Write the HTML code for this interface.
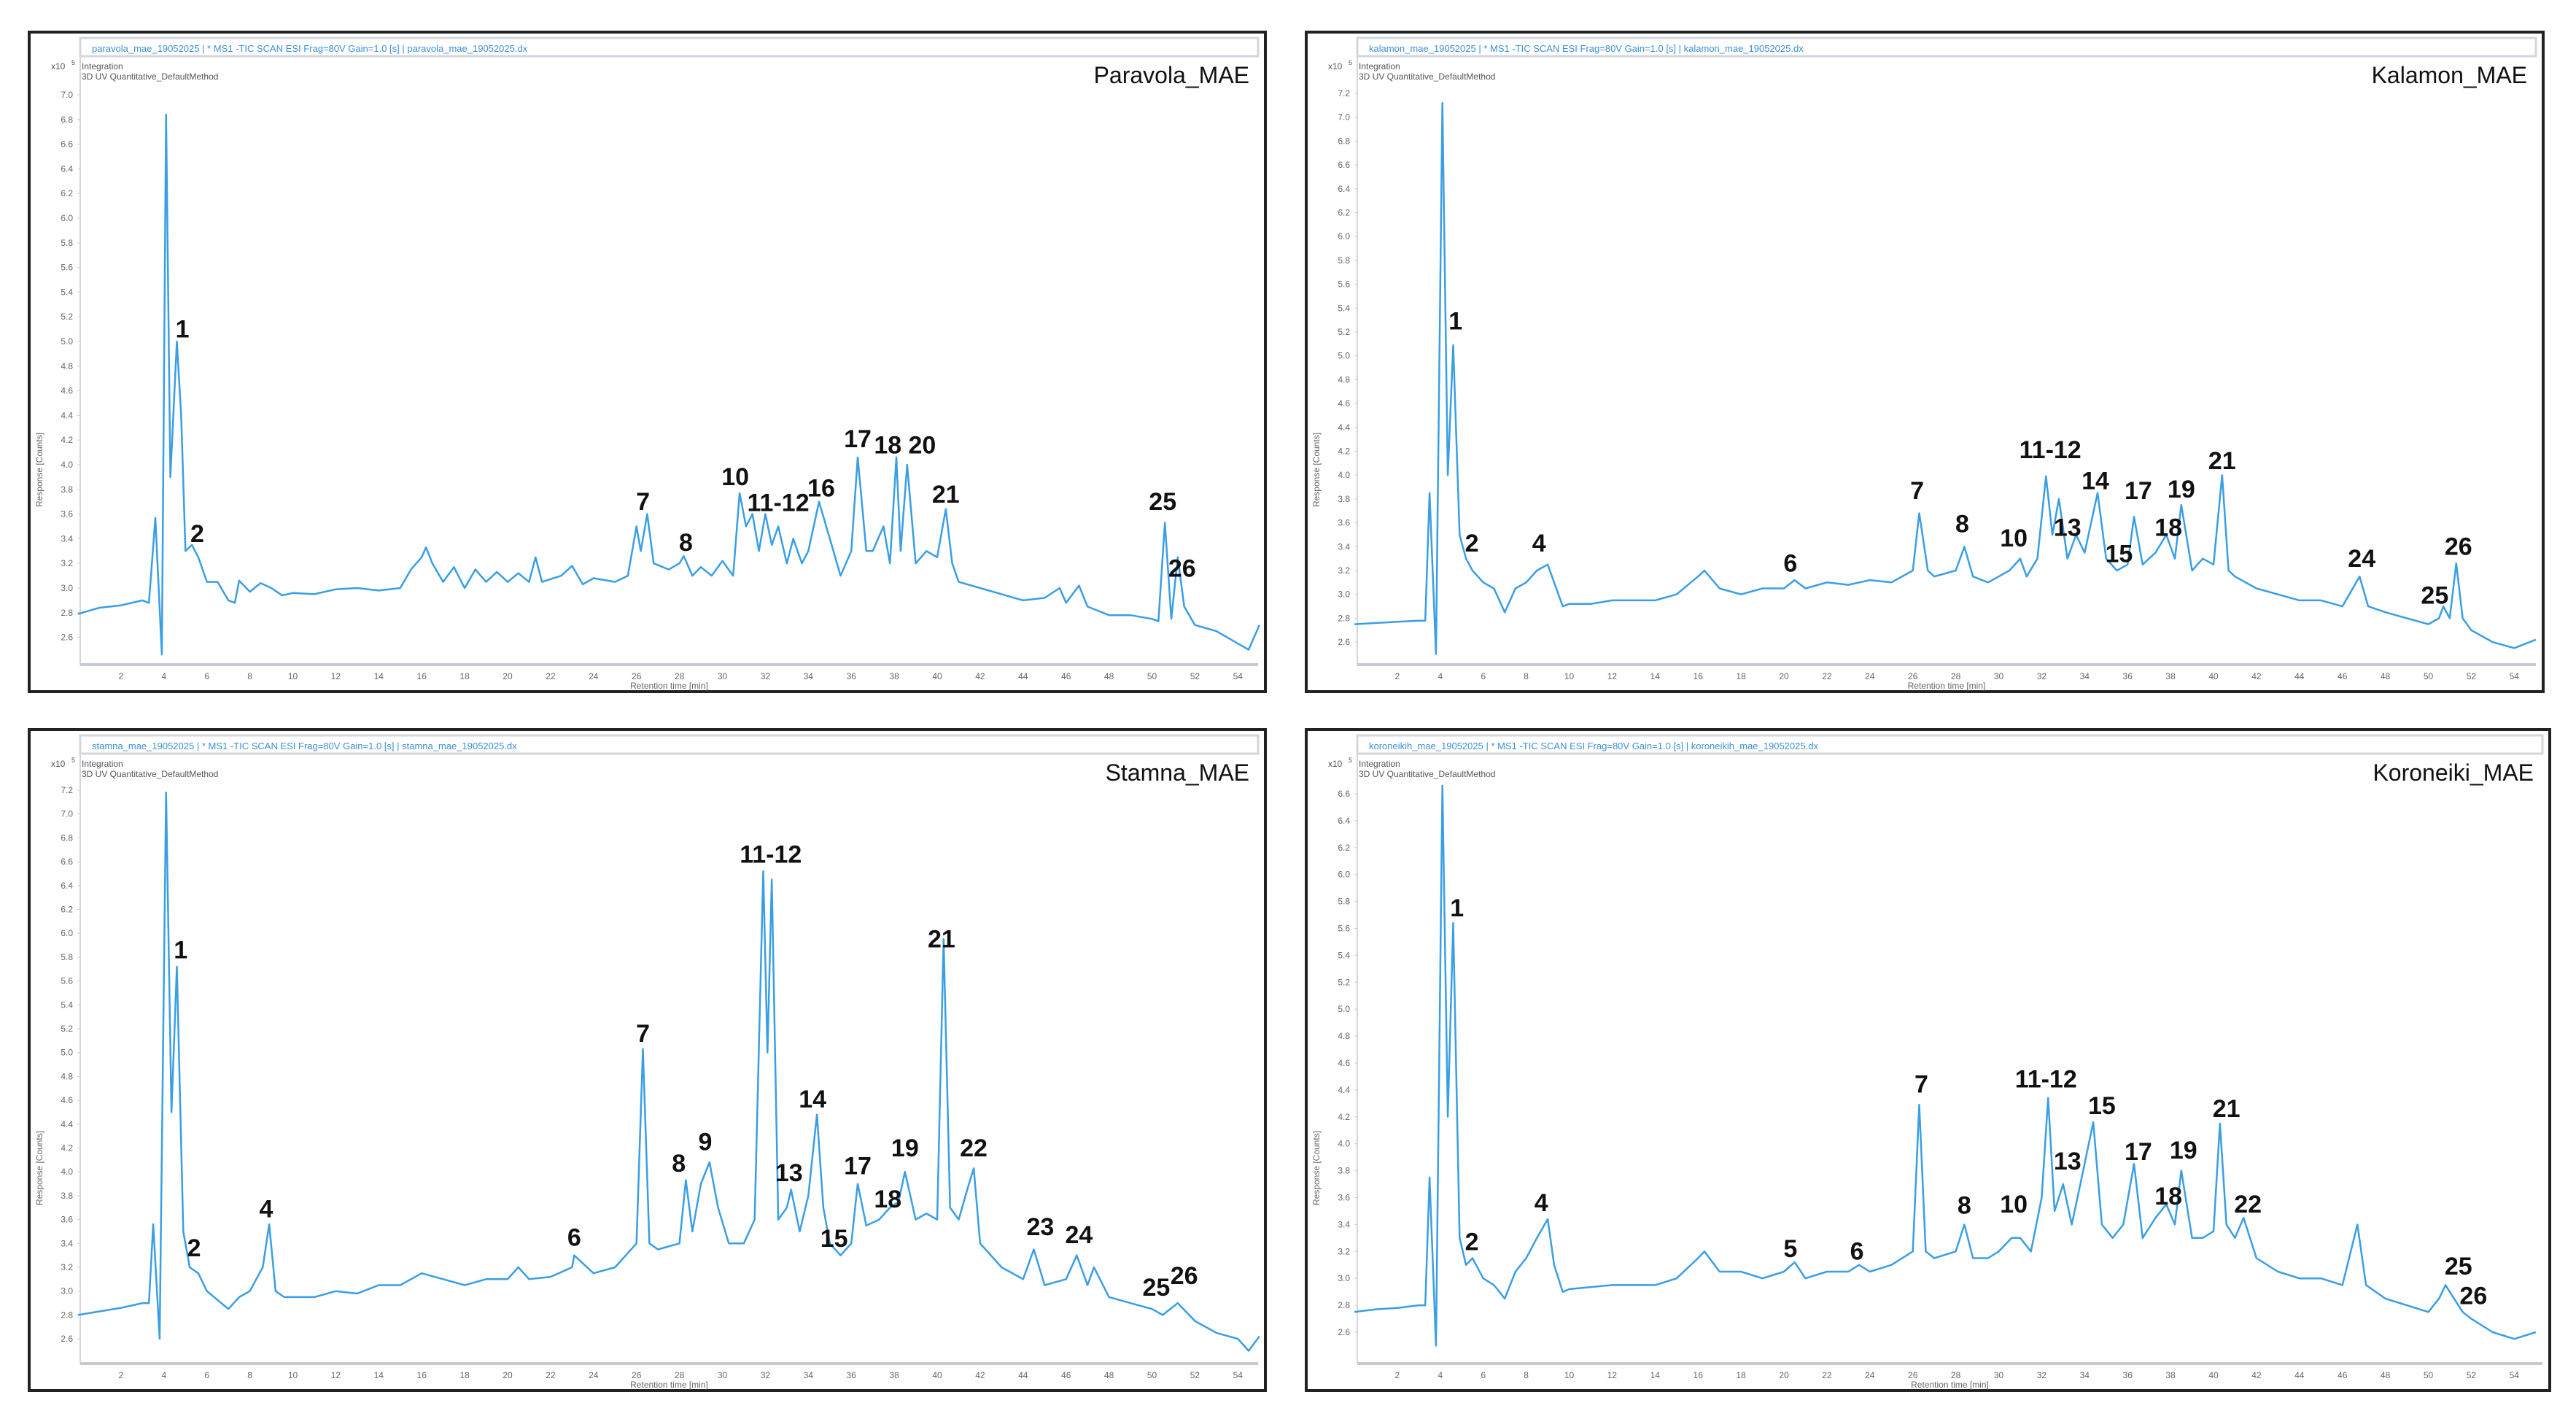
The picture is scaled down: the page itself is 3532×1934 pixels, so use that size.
<!DOCTYPE html>
<html><head><meta charset="utf-8"><style>
html,body{margin:0;padding:0;background:#fff;}
svg{display:block;font-family:"Liberation Sans",sans-serif;}
</style></head><body>
<svg id="fig" width="3532" height="1934" viewBox="0 0 3532 1934" xmlns="http://www.w3.org/2000/svg"></svg>
<script>
// ---------- Paravola ----------
const p1Times=[0,1,2,3,3.3,3.6,3.9,4.1,4.3,4.6,4.8,5.0,5.3,5.6,6,6.5,7,7.3,7.5,8,8.5,9,9.5,10,11,12,13,14,15,15.5,16,16.2,16.5,17,17.5,18,18.5,19,19.5,20,20.5,21,21.3,21.6,22.5,23,23.5,24,25,25.6,26,26.2,26.5,26.8,27.5,28,28.2,28.6,29,29.5,30,30.5,30.8,31.1,31.4,31.7,32,32.3,32.6,33,33.3,33.7,34,34.5,35,35.5,36,36.3,36.7,37,37.5,37.8,38.1,38.3,38.6,39,39.5,40,40.4,40.7,41,42,43,44,45,45.7,46,46.6,47,48,49,50,50.3,50.6,50.9,51.2,51.5,52,53,54,54.5,55];
const p1Vals=[2.79,2.84,2.86,2.9,2.88,3.57,2.46,6.84,3.9,5.0,4.4,3.3,3.35,3.25,3.05,3.05,2.9,2.88,3.06,2.97,3.04,3.0,2.94,2.96,2.95,2.99,3.0,2.98,3.0,3.15,3.25,3.33,3.2,3.05,3.17,3.0,3.15,3.05,3.13,3.05,3.12,3.05,3.25,3.05,3.1,3.18,3.03,3.08,3.05,3.1,3.5,3.3,3.6,3.2,3.15,3.2,3.26,3.1,3.17,3.1,3.22,3.1,3.77,3.5,3.6,3.3,3.6,3.35,3.5,3.2,3.4,3.2,3.3,3.7,3.4,3.1,3.3,4.06,3.3,3.3,3.5,3.2,4.06,3.3,4.0,3.2,3.3,3.25,3.64,3.2,3.05,3.0,2.95,2.9,2.92,3.0,2.88,3.02,2.85,2.78,2.78,2.75,2.73,3.53,2.75,3.25,2.85,2.7,2.65,2.55,2.5,2.7];
const p1Labels=["1","2","7","8","10","11-12","16","17","18","20","21","25","26"];
const p1LabT=[4.86,5.55,26.3,28.3,30.6,32.6,34.6,36.3,37.7,39.3,40.4,50.5,51.4];
const p1LabV=[5.11,3.45,3.71,3.38,3.91,3.70,3.82,4.22,4.17,4.17,3.77,3.71,3.17];
// ---------- Kalamon ----------
const p2Times=[0,1,2,3,3.3,3.5,3.8,4.1,4.35,4.6,4.9,5.2,5.5,6,6.5,7,7.5,8,8.5,9,9.3,9.7,10,11,12,13,14,15,16,16.3,17,18,19,20,20.5,21,22,23,24,25,26,26.3,26.7,27,28,28.4,28.8,29.5,30,30.5,31,31.3,31.8,32.2,32.5,32.8,33.2,33.6,34,34.6,35,35.5,36,36.3,36.7,37.3,37.8,38.2,38.5,39,39.5,40,40.4,40.7,41,42,43,44,45,46,46.8,47.2,48,49,50,50.5,50.7,51,51.3,51.6,52,53,54,55];
const p2Vals=[2.75,2.76,2.77,2.78,2.78,3.85,2.5,7.12,4.0,5.09,3.5,3.3,3.2,3.1,3.05,2.85,3.05,3.1,3.2,3.25,3.1,2.9,2.92,2.92,2.95,2.95,2.95,3.0,3.15,3.2,3.05,3.0,3.05,3.05,3.12,3.05,3.1,3.08,3.12,3.1,3.2,3.68,3.2,3.15,3.2,3.4,3.15,3.1,3.15,3.2,3.3,3.15,3.3,3.99,3.5,3.8,3.3,3.5,3.35,3.85,3.3,3.2,3.25,3.65,3.25,3.35,3.5,3.3,3.75,3.2,3.3,3.25,4.0,3.2,3.15,3.05,3.0,2.95,2.95,2.9,3.15,2.9,2.85,2.8,2.75,2.8,2.9,2.8,3.26,2.8,2.7,2.6,2.55,2.62];
const p2Labels=["1","2","4","6","7","8","10","11-12","13","14","15","17","18","19","21","24","25","26"];
const p2LabT=[4.71,5.47,8.6,20.3,26.2,28.3,30.7,32.4,33.2,34.5,35.6,36.5,37.9,38.5,40.4,46.9,50.3,51.4];
const p2LabV=[5.30,3.44,3.44,3.27,3.88,3.6,3.48,4.22,3.57,3.96,3.35,3.88,3.57,3.89,4.13,3.31,3.0,3.41];
// ---------- Stamna ----------
const p3Times=[0,1,2,3,3.3,3.5,3.8,4.1,4.35,4.6,4.9,5.2,5.6,6,7,7.5,8,8.3,8.6,8.9,9.2,9.6,10,11,12,13,14,15,16,17,18,19,20,20.5,21,22,23,23.1,24,25,25.5,26,26.3,26.6,27,28,28.3,28.6,29,29.4,29.8,30.3,31,31.5,31.9,32.1,32.3,32.6,33,33.2,33.6,34,34.4,34.7,35,35.5,36,36.3,36.7,37.3,37.8,38.2,38.5,39,39.5,40,40.3,40.6,41,41.4,41.7,42,43,44,44.5,45,46,46.5,47,47.3,48,49,50,50.5,51.2,52,53,54,54.5,55];
const p3Vals=[2.8,2.83,2.86,2.9,2.9,3.56,2.6,7.18,4.5,5.72,3.5,3.2,3.15,3.0,2.85,2.95,3.0,3.1,3.2,3.56,3.0,2.95,2.95,2.95,3.0,2.98,3.05,3.05,3.15,3.1,3.05,3.1,3.1,3.2,3.1,3.12,3.2,3.3,3.15,3.2,3.3,3.4,5.03,3.4,3.35,3.4,3.93,3.5,3.9,4.08,3.7,3.4,3.4,3.6,6.52,5.0,6.45,3.6,3.7,3.85,3.5,3.8,4.48,3.7,3.4,3.3,3.4,3.9,3.55,3.6,3.7,3.75,4.0,3.6,3.65,3.6,5.95,3.7,3.6,3.85,4.03,3.4,3.2,3.1,3.35,3.05,3.1,3.3,3.05,3.2,2.95,2.9,2.85,2.8,2.9,2.75,2.65,2.6,2.5,2.62];
const p3Labels=["1","2","4","6","7","8","9","11-12","13","14","15","17","18","19","21","22","23","24","25","26"];
const p3LabT=[4.78,5.4,8.76,23.1,26.3,27.97,29.2,32.25,33.1,34.2,35.2,36.3,37.7,38.5,40.2,41.7,44.8,46.6,50.2,51.5];
const p3LabV=[5.87,3.37,3.70,3.46,5.17,4.08,4.26,6.67,4.0,4.62,3.45,4.06,3.78,4.21,5.96,4.21,3.55,3.48,3.04,3.14];
// ---------- Koroneiki ----------
const p4Times=[0,1,2,3,3.3,3.5,3.8,4.1,4.35,4.6,4.9,5.2,5.5,6,6.5,7,7.5,8,8.5,9,9.3,9.7,10,12,14,15,16,16.3,17,18,19,20,20.5,21,22,23,23.5,24,25,26,26.3,26.6,27,28,28.4,28.8,29.5,30,30.6,31,31.5,32,32.3,32.6,33,33.4,33.8,34.4,34.8,35.3,35.8,36.3,36.7,37.3,37.8,38.2,38.5,39,39.5,40,40.3,40.6,41,41.4,42,43,44,45,46,46.7,47.1,48,49,50,50.5,50.8,51.2,51.6,52,53,54,55];
const p4Vals=[2.75,2.77,2.78,2.8,2.8,3.75,2.5,6.66,4.2,5.64,3.3,3.1,3.15,3.0,2.95,2.85,3.05,3.15,3.3,3.44,3.1,2.9,2.92,2.95,2.95,3.0,3.15,3.2,3.05,3.05,3.0,3.05,3.12,3.0,3.05,3.05,3.1,3.05,3.1,3.2,4.29,3.2,3.15,3.2,3.4,3.15,3.15,3.2,3.3,3.3,3.2,3.6,4.34,3.5,3.7,3.4,3.7,4.16,3.4,3.3,3.4,3.85,3.3,3.45,3.55,3.4,3.8,3.3,3.3,3.35,4.15,3.4,3.3,3.45,3.15,3.05,3.0,3.0,2.95,3.4,2.95,2.85,2.8,2.75,2.85,2.95,2.85,2.75,2.7,2.6,2.55,2.6];
const p4Labels=["1","2","4","5","6","7","8","10","11-12","13","15","17","18","19","21","22","25","26"];
const p4LabT=[4.78,5.47,8.7,20.3,23.4,26.4,28.4,30.7,32.2,33.2,34.8,36.5,37.9,38.6,40.6,41.6,51.4,52.1];
const p4LabV=[5.76,3.28,3.57,3.23,3.21,4.45,3.55,3.56,4.49,3.88,4.29,3.95,3.62,3.96,4.27,3.56,3.10,2.88];
// shared axis tick values
const xTicks=[2,4,6,8,10,12,14,16,18,20,22,24,26,28,30,32,34,36,38,40,42,44,46,48,50,52,54];
const yTicksA=[2.6,2.8,3.0,3.2,3.4,3.6,3.8,4.0,4.2,4.4,4.6,4.8,5.0,5.2,5.4,5.6,5.8,6.0,6.2,6.4,6.6,6.8,7.0];
const yTicksB=[2.6,2.8,3.0,3.2,3.4,3.6,3.8,4.0,4.2,4.4,4.6,4.8,5.0,5.2,5.4,5.6,5.8,6.0,6.2,6.4,6.6,6.8,7.0,7.2];
const yTicksC=[2.6,2.8,3.0,3.2,3.4,3.6,3.8,4.0,4.2,4.4,4.6,4.8,5.0,5.2,5.4,5.6,5.8,6.0,6.2,6.4,6.6];

const NS="http://www.w3.org/2000/svg";
const svg=document.getElementById('fig');
function mk(tag,attrs,parent){const e=document.createElementNS(NS,tag);for(const k in attrs)e.setAttribute(k,attrs[k]);(parent||svg).appendChild(e);return e;}

const panels=[
 {key:'paravola',title:'Paravola_MAE',file:'paravola_mae_19052025',box:[40,44,1735,948],t0:107,ppm:29.45,vRef:7.0,yRef:130,ppu:169,ticks:yTicksA,times:p1Times,vals:p1Vals,labs:p1Labels,lt:p1LabT,lv:p1LabV},
 {key:'kalamon',title:'Kalamon_MAE',file:'kalamon_mae_19052025',box:[1791,44,3487,948],t0:1857,ppm:29.45,vRef:7.2,yRef:128,ppu:163.5,ticks:yTicksB,times:p2Times,vals:p2Vals,labs:p2Labels,lt:p2LabT,lv:p2LabV},
 {key:'stamna',title:'Stamna_MAE',file:'stamna_mae_19052025',box:[40,1000,1735,1906],t0:107,ppm:29.45,vRef:7.2,yRef:1083,ppu:163.5,ticks:yTicksB,times:p3Times,vals:p3Vals,labs:p3Labels,lt:p3LabT,lv:p3LabV},
 {key:'koroneiki',title:'Koroneiki_MAE',file:'koroneikih_mae_19052025',box:[1791,1000,3496,1906],t0:1857,ppm:29.45,vRef:6.6,yRef:1088,ppu:184.5,ticks:yTicksC,times:p4Times,vals:p4Vals,labs:p4Labels,lt:p4LabT,lv:p4LabV}
];

panels.forEach(p=>{
 const [x0,y0,x1,y1]=p.box;
 const g=mk('g',{});
 
 
 const X=t=>p.t0+t*p.ppm;
 const Y=v=>p.yRef+(p.vRef-v)*p.ppu;
 const pl=x0+70, pr=x1-10, ht=y0+8, hb=y0+33, ab=y1-37;
 const fr=mk('rect',{x:x0,y:y0,width:x1-x0,height:y1-y0,fill:'#fff',stroke:'#222',"stroke-width":4},g);
 
 
 const hd=mk('rect',{x:pl,y:ht,width:pr-pl,height:hb-ht,fill:'#fff',stroke:'#d3d6dc',"stroke-width":3},g);
 
 
 const ht1=mk('text',{x:pl+16,y:ht+19,"font-size":13,fill:'#3d8fd6'},g);
 ht1.textContent=p.file+' | * MS1 -TIC SCAN ESI Frag=80V Gain=1.0 [s] | '+p.file+'.dx';
 
 
 const al=mk('line',{x1:pl,y1:hb,x2:pl,y2:ab,stroke:'#d3d6dc',"stroke-width":2},g);
 
 
 const ax=mk('line',{x1:pl,y1:ab,x2:pr,y2:ab,stroke:'#c5c9d0',"stroke-width":4},g);
 
 
 const sc=mk('text',{x:pl-40,y:hb+18,"font-size":12,fill:'#555'},g);
 sc.textContent='x10';
 
 
 const sc2=mk('text',{x:pl-12,y:hb+12,"font-size":9,fill:'#555'},g);
 sc2.textContent='5';
 
 
 const in1=mk('text',{x:pl+2,y:hb+18,"font-size":12,fill:'#555'},g);
 in1.textContent='Integration';
 
 
 const in2=mk('text',{x:pl+2,y:hb+32,"font-size":12,fill:'#555'},g);
 in2.textContent='3D UV Quantitative_DefaultMethod';
 
 
 p.ticks.forEach(v=>{
  const tl=mk('text',{x:pl-10,y:Y(v)+4,"font-size":12,fill:'#666',"text-anchor":'end'},g);
  tl.textContent=v.toFixed(1);
  
  
  const tk=mk('line',{x1:pl-4,y1:Y(v),x2:pl,y2:Y(v),stroke:'#ccc',"stroke-width":1},g);
  
  
 });
 xTicks.forEach(t=>{
  const tl=mk('text',{x:X(t),y:ab+20,"font-size":12,fill:'#666',"text-anchor":'middle'},g);
  tl.textContent=t;
  
  
 });
 const xt=mk('text',{x:(pl+pr)/2,y:ab+33,"font-size":12,fill:'#666',"text-anchor":'middle'},g);
 xt.textContent='Retention time [min]';
 
 
 const cy=(hb+ab)/2+150;
 const yt=mk('text',{x:x0+18,y:cy,"font-size":12,fill:'#666',"text-anchor":'middle',transform:'rotate(-90 '+(x0+18)+' '+cy+')'},g);
 yt.textContent='Response [Counts]';
 
 
 const tt=mk('text',{x:x1-22,y:y0+70,"font-size":32,fill:'#111',"text-anchor":'end'},g);
 tt.textContent=p.title;
 
 
 const pts=p.times.map((t,i)=>X(t).toFixed(1)+','+Y(p.vals[i]).toFixed(1)).join(' ');
 const ln=mk('polyline',{points:pts,fill:'none',stroke:'#3a9ee4',"stroke-width":2.5,"stroke-linejoin":'round'},g);
 
 
 p.labs.forEach((s,i)=>{
  const lb=mk('text',{x:X(p.lt[i]),y:Y(p.lv[i])+13,"font-size":34,"font-weight":'bold',fill:'#111',"text-anchor":'middle'},g);
  lb.textContent=s;
  
  
 });
});
</script>
</body></html>
